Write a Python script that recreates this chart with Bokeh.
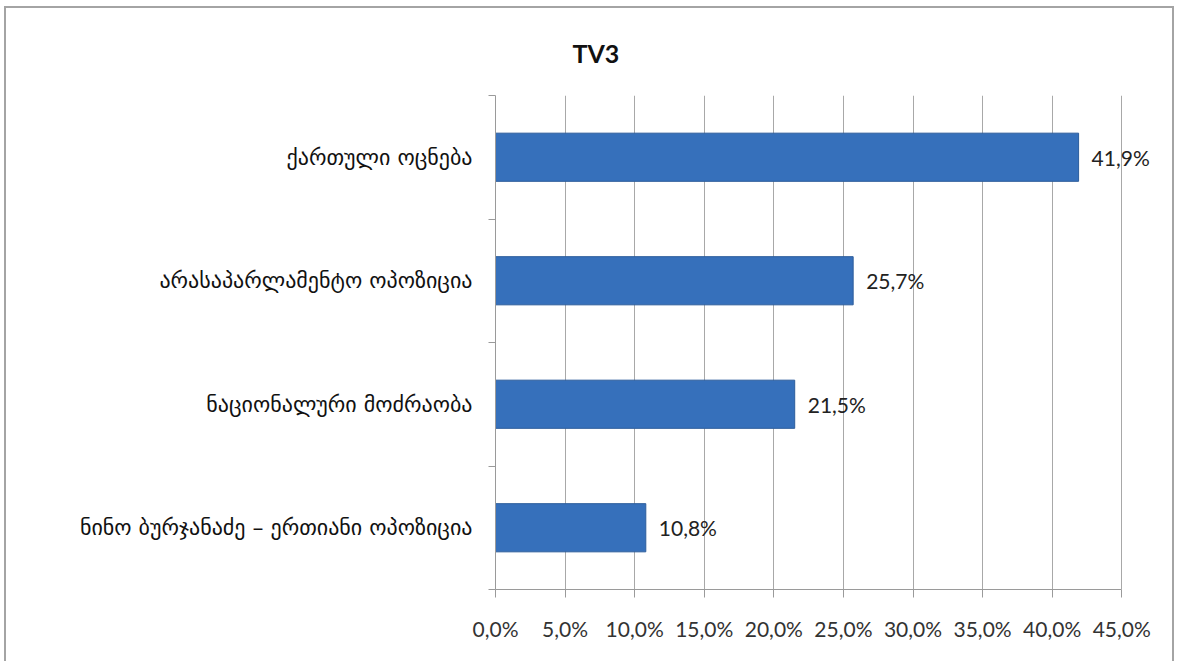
from bokeh.plotting import figure
from bokeh.models import FixedTicker, Range1d, ColumnDataSource, LabelSet
from bokeh.core.properties import value
from bokeh.embed import file_html
from bokeh.resources import INLINE

title_text = "TV3"
categories = [
    "ქართული ოცნება",
    "არასაპარლამენტო ოპოზიცია",
    "ნაციონალური მოძრაობა",
    "ნინო ბურჯანაძე – ერთიანი ოპოზიცია",
]
shares = [41.9, 25.7, 21.5, 10.8]
x_ticks = [0, 5, 10, 15, 20, 25, 30, 35, 40, 45]
x_tick_labels = ["0,0%", "5,0%", "10,0%", "15,0%", "20,0%", "25,0%", "30,0%", "35,0%", "40,0%", "45,0%"]

n = len(categories)
ypos = [n - i - 0.5 for i in range(n)]
bar_labels = [f"{v:.1f}%".replace(".", ",") for v in shares]

src = ColumnDataSource(dict(y=ypos, x=shares, label=bar_labels))

p = figure(
    width=1170, height=655,
    x_range=Range1d(x_ticks[0], 48), y_range=Range1d(0, n),
    output_backend="svg", toolbar_location=None,
    min_border_left=489, min_border_right=13, min_border_top=87, min_border_bottom=74,
    title=title_text,
)
p.styles = {"margin-left": "4px", "margin-top": "6px",
            "border-left": "2px solid #a4a4a4", "border-top": "2px solid #a4a4a4",
            "border-right": "2px solid #a4a4a4"}
p.outline_line_color = None
p.background_fill_color = "white"
p.border_fill_color = "white"

p.title.text_font = "Lato"
p.title.text_font_style = "bold"
p.title.text_font_size = "25px"
p.title.text_color = "#111111"
p.title.align = "left"
p.title.offset = 77
p.title.standoff = 55

# x axis
xax = p.xaxis[0]
xax.ticker = FixedTicker(ticks=x_ticks)
xax.bounds = (x_ticks[0], x_ticks[-1])
xax.major_label_overrides = {t: l for t, l in zip(x_ticks, x_tick_labels)}
xax.major_label_text_font = "Lato"
xax.major_label_text_font_size = "21px"
xax.major_label_text_color = "#333333"
xax.major_label_standoff = 18
xax.major_tick_in = 0
xax.major_tick_out = 8
xax.minor_tick_line_color = None
xax.axis_line_color = "#9a9a9a"
xax.major_tick_line_color = "#9a9a9a"

p.xgrid.ticker = FixedTicker(ticks=x_ticks)
p.xgrid.grid_line_color = "#a8a8a8"
p.ygrid.grid_line_color = None

# y axis: labels at category centres, ticks at category boundaries
yax = p.yaxis[0]
yax.ticker = FixedTicker(ticks=ypos, minor_ticks=list(range(n + 1)))
yax.major_label_overrides = {y: c for y, c in zip(ypos, categories)}
yax.major_tick_line_color = None
yax.major_tick_in = 0
yax.major_tick_out = 0
yax.minor_tick_in = 0
yax.minor_tick_out = 7
yax.minor_tick_line_color = "#9a9a9a"
yax.axis_line_color = "#9a9a9a"
yax.major_label_standoff = 16
yax.major_label_text_font = "DejaVu Sans"
yax.major_label_text_font_size = "22px"
yax.major_label_text_color = "#111111"

p.hbar(y="y", right="x", left=0, height=0.39, source=src,
       fill_color="#3670bb", line_color="#2d5d9c", line_width=1)

labels = LabelSet(x="x", y="y", text="label", source=src, x_offset=13,
                  text_align="left", text_baseline="middle",
                  text_font=value("Lato"), text_font_size=value("21px"),
                  text_color="#222222")
p.add_layout(labels)

open("out.html", "w").write(file_html(p, INLINE))
